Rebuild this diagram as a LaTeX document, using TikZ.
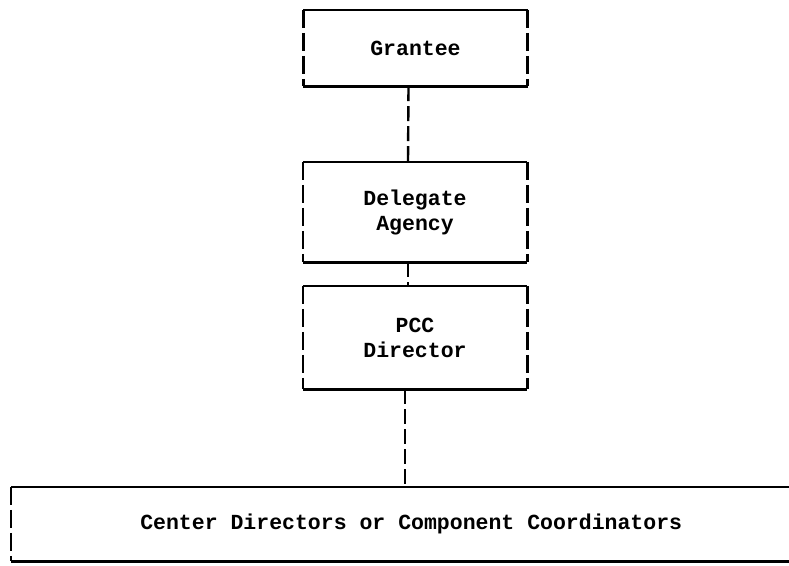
\documentclass[tikz,border=0pt]{standalone}
\usepackage{fontspec}
\setmonofont{Liberation Mono}
\usetikzlibrary{positioning}

\tikzset{
  orgbox/.style={minimum width=224pt, inner sep=0pt, align=center,
    font=\ttfamily\bfseries\fontsize{21.5}{25}\selectfont},
  rule/.style={line width=2.6pt},
  side/.style={line width=2.6pt, dash pattern=on 18pt off 5pt},
  link/.style={line width=2.4pt, dash pattern=on 15pt off 5pt}
}

\begin{document}
\begin{tikzpicture}[x=1pt, y=-1pt]
        \useasboundingbox (0,0) rectangle (789,565);

        \node[orgbox, minimum height=76pt] (grantee) at (415.5,48) {Grantee};
        \node[orgbox, minimum height=100pt] (delegate) at (415,212) {Delegate\\Agency};
        \node[orgbox, minimum height=103pt] (pcc) at (415,337.5) {PCC\\Director};
        \node[orgbox, minimum width=800pt, minimum height=74pt, anchor=west] (centers) at (11,524)
            {Center Directors or Component Coordinators};

        % box sides
        \foreach \n in {grantee,delegate,pcc}{
            \draw[rule] (\n.north west) -- (\n.north east);
            \draw[rule] (\n.south west) -- (\n.south east);
            \draw[side] (\n.north west) -- (\n.south west);
            \draw[side] (\n.north east) -- (\n.south east);
        }
        \draw[rule] (centers.north west) -- (centers.north east);
        \draw[rule] (centers.south west) -- (centers.south east);
        \draw[side] (centers.north west) -- (centers.south west);

        \draw[link] ([xshift=-7pt]grantee.south) -- ([xshift=-7pt]delegate.north);
        \draw[link] ([xshift=-7pt]delegate.south) -- ([xshift=-7pt]pcc.north);
        \draw[link] ([xshift=-10pt]pcc.south) -- ([xshift=-10pt]pcc.south |- centers.north);

\end{tikzpicture}
\end{document}
